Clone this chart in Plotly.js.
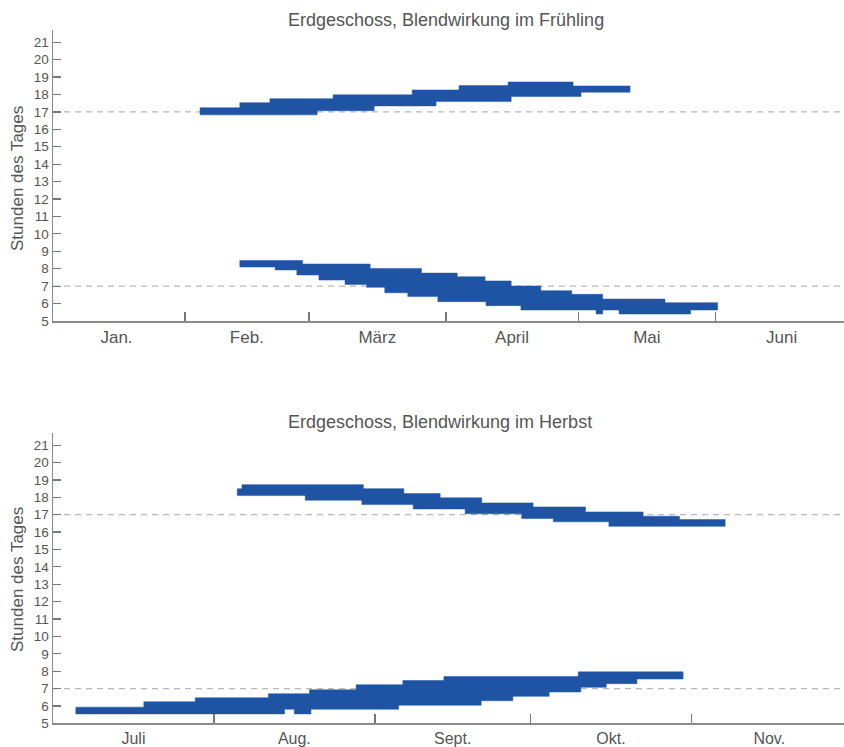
<!DOCTYPE html>
<html>
<head>
<meta charset="utf-8">
<script src="https://cdn.plot.ly/plotly-3.0.1.min.js"></script>
<style>html,body{margin:0;padding:0;background:#fff;}#chart{width:844px;height:747px;}</style>
</head>
<body>
<div id="chart"></div>
<script>
// ---------- DATA ----------
// Spring chart: x = day of year (Jan 1 = 0)
const springMonths = ['Jan.', 'Feb.', 'März', 'April', 'Mai', 'Juni'];
const springMonthCenters = [15.5, 45, 74.5, 105, 135.5, 166];
const springMonthBounds = [31, 59, 90, 120, 151];

// Evening band (spring) – stepped upper/lower edges
const springEveTopX = [34.4, 43.4, 50.2, 64.5, 82.4, 93.0, 104.1, 118.8, 131.7];
const springEveTopY = [17.24, 17.53, 17.76, 17.98, 18.26, 18.51, 18.72, 18.49];
const springEveBotX = [34.4, 60.9, 73.8, 87.8, 104.8, 120.6, 131.7];
const springEveBotY = [16.83, 17.07, 17.34, 17.59, 17.88, 18.13];

// Morning band (spring)
const springMornTopX = [43.4, 57.6, 72.9, 84.5, 92.6, 98.9, 104.8, 111.5, 118.5, 125.5, 139.6, 151.5];
const springMornTopY = [8.47, 8.27, 8.02, 7.75, 7.54, 7.30, 7.01, 6.74, 6.53, 6.26, 6.05];
const springMornBotX = [43.4, 51.4, 56.3, 61.3, 67.2, 72.1, 76.2, 81.4, 88.2, 99.1, 107.0, 124.0, 125.5, 129.2, 145.4, 151.5];
const springMornBotY = [8.10, 7.93, 7.64, 7.35, 7.10, 6.93, 6.62, 6.40, 6.11, 5.88, 5.63, 5.40, 5.63, 5.40, 5.63];

// Autumn chart: x = days since Jul 1
const autumnMonths = ['Juli', 'Aug.', 'Sept.', 'Okt.', 'Nov.'];
const autumnMonthCenters = [15.5, 46.5, 77, 107.5, 138];
const autumnMonthBounds = [31, 62, 92, 123];

// Evening band (autumn)
const autumnEveTopX = [35.5, 36.4, 59.8, 67.6, 74.6, 82.6, 92.5, 102.6, 113.7, 120.7, 129.5];
const autumnEveTopY = [18.49, 18.73, 18.50, 18.22, 17.97, 17.68, 17.45, 17.16, 16.91, 16.72];
const autumnEveBotX = [35.5, 48.6, 59.5, 69.4, 79.4, 90.3, 96.4, 107.1, 129.5];
const autumnEveBotY = [18.10, 17.83, 17.58, 17.33, 17.05, 16.78, 16.59, 16.33];

// Morning band (autumn)
const autumnMornTopX = [4.4, 17.5, 27.4, 41.5, 49.4, 58.4, 67.4, 75.3, 101.2, 121.4];
const autumnMornTopY = [5.93, 6.24, 6.47, 6.70, 6.93, 7.22, 7.46, 7.69, 7.96];
const autumnMornBotX = [4.4, 44.6, 46.5, 49.7, 66.6, 82.5, 88.6, 95.6, 101.7, 106.6, 112.5, 121.4];
const autumnMornBotY = [5.54, 5.81, 5.54, 5.81, 6.04, 6.30, 6.55, 6.80, 7.07, 7.28, 7.55];

const thresholds = [7, 17];
const hourTicks = [5, 6, 7, 8, 9, 10, 11, 12, 13, 14, 15, 16, 17, 18, 19, 20, 21];

const titles = ['Erdgeschoss, Blendwirkung im Frühling', 'Erdgeschoss, Blendwirkung im Herbst'];
const yTitle = 'Stunden des Tages';

// ---------- BUILD ----------
const BLUE = '#1f54a5';
const TXT = '#555555';
const AX = '#8a8a8a';
const FONT = 'Liberation Sans, Arial, sans-serif';

function band(topX, topY, botX, botY, xa, ya) {
  const xs = [], ys = [];
  for (let i = 0; i < topY.length; i++) {
    xs.push(topX[i], topX[i + 1]);
    ys.push(topY[i], topY[i]);
  }
  for (let j = botY.length - 1; j >= 0; j--) {
    xs.push(botX[j + 1], botX[j]);
    ys.push(botY[j], botY[j]);
  }
  xs.push(xs[0]); ys.push(ys[0]);
  return {
    type: 'scatter', mode: 'lines', x: xs, y: ys, fill: 'toself',
    fillcolor: BLUE, line: {color: BLUE, width: 0.5},
    xaxis: xa, yaxis: ya, hoverinfo: 'skip'
  };
}

const traces = [
  band(springEveTopX, springEveTopY, springEveBotX, springEveBotY, 'x', 'y'),
  band(springMornTopX, springMornTopY, springMornBotX, springMornBotY, 'x', 'y'),
  band(autumnEveTopX, autumnEveTopY, autumnEveBotX, autumnEveBotY, 'x2', 'y2'),
  band(autumnMornTopX, autumnMornTopY, autumnMornBotX, autumnMornBotY, 'x2', 'y2')
];

const W = 844, H = 747;
const px = v => v / W;
const py = v => 1 - v / H;

function xAxis(centers, labels, bounds, range, anchor, fs) {
  return {
    domain: [px(53), 1], anchor: anchor, range: range,
    tickmode: 'array', tickvals: centers, ticktext: labels, ticks: '',
    showline: true, linecolor: AX, linewidth: 1.5, showgrid: false, zeroline: false,
    tickfont: {family: FONT, size: fs, color: TXT},
    minor: {tickmode: 'array', tickvals: bounds, ticks: 'inside', ticklen: 9, tickcolor: '#777', tickwidth: 1.5, showgrid: false},
    automargin: false, fixedrange: true
  };
}
function yAxis(dom, anchor) {
  return {
    domain: dom, anchor: anchor, range: [5, 21.7],
    tickmode: 'array', tickvals: hourTicks, ticktext: hourTicks.map(String),
    ticks: 'inside', ticklen: 8, tickcolor: '#777', tickwidth: 1.2,
    showline: true, linecolor: AX, linewidth: 1.5, showgrid: false, zeroline: false,
    tickfont: {family: FONT, size: 13.5, color: TXT},
    automargin: false, fixedrange: true
  };
}

const shapes = [];
[['x', 'y'], ['x2', 'y2']].forEach(([xa, ya]) => {
  thresholds.forEach(t => {
    shapes.push({type: 'line', xref: xa + ' domain', yref: ya, x0: 0, x1: 1, y0: t, y1: t,
      line: {color: '#b8b8b8', width: 1.3, dash: '6px,5px'}, layer: 'below'});
  });
});

const annotations = [
  {text: titles[0], xref: 'paper', yref: 'paper', x: px(446), y: py(20), showarrow: false,
    xanchor: 'center', yanchor: 'middle', font: {family: FONT, size: 18, color: TXT}},
  {text: titles[1], xref: 'paper', yref: 'paper', x: px(440), y: py(422), showarrow: false,
    xanchor: 'center', yanchor: 'middle', font: {family: FONT, size: 18, color: TXT}},
  {text: yTitle, xref: 'paper', yref: 'paper', x: px(17), y: py(179), showarrow: false, textangle: -90,
    xanchor: 'center', yanchor: 'middle', font: {family: FONT, size: 17, color: TXT}},
  {text: yTitle, xref: 'paper', yref: 'paper', x: px(17), y: py(580), showarrow: false, textangle: -90,
    xanchor: 'center', yanchor: 'middle', font: {family: FONT, size: 17, color: TXT}}
];

const layout = {
  width: W, height: H,
  margin: {l: 0, r: 0, t: 0, b: 0, pad: 0},
  paper_bgcolor: '#fff', plot_bgcolor: '#fff',
  showlegend: false,
  xaxis: xAxis(springMonthCenters, springMonths, springMonthBounds, [1.13, 180.1], 'y', 17),
  yaxis: yAxis([py(321), py(30)], 'x'),
  xaxis2: xAxis(autumnMonthCenters, autumnMonths, autumnMonthBounds, [0, 152.4], 'y2', 16),
  yaxis2: yAxis([py(723.3), py(433)], 'x2'),
  shapes: shapes,
  annotations: annotations,
  font: {family: FONT, color: TXT}
};

Plotly.newPlot('chart', traces, layout, {displayModeBar: false, staticPlot: true});
</script>
</body>
</html>
